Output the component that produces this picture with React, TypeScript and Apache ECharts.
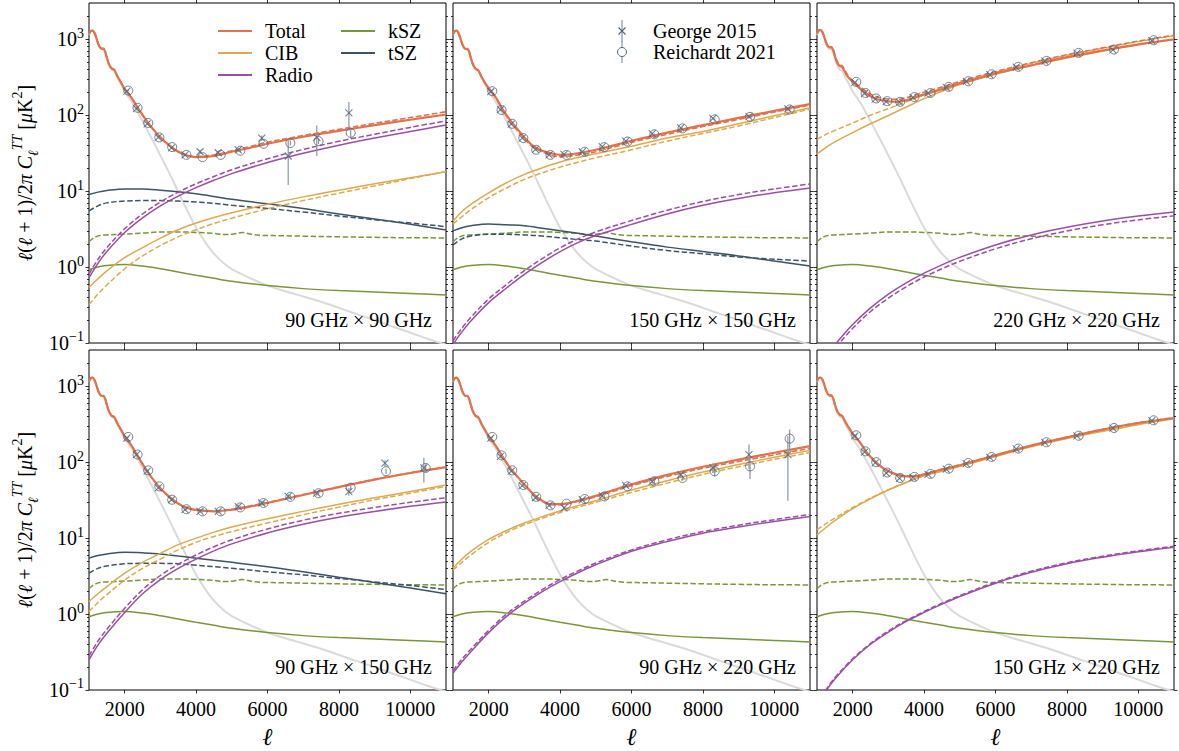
import React, { useEffect, useRef } from 'react';
import * as echarts from 'echarts';

// ---------------- data ----------------
const ELL_CMB = [1000,1050,1100,1150,1200,1250,1300,1350,1400,1450,1500,1550,1600,1650,1700,1750,1800,1900,2000,2200,2400,2600,2800,3000,3200,3400,3600,3800,4000,4250,4500,4750,5000,5500,6000,6500,7000,7500,8000,8500,9000,9500,10000,10500,11000];
const CMB = [1150,1270,1290,1210,1050,880,780,740,740,680,560,470,420,395,385,350,310,255,205,150,102,68,45,29.5,19.2,12.3,7.8,5.0,3.3,2.15,1.5,1.15,0.94,0.72,0.57,0.48,0.41,0.35,0.29,0.24,0.2,0.165,0.137,0.113,0.095];

const ELL_TOT = [1000,1050,1100,1150,1200,1250,1300,1350,1400,1450,1500,1550,1600,1650,1700,1750,1800,1900,2000,2200,2400,2600,2800,3000,3250,3500,3750,4000,4500,5000,5500,6000,7000,8000,9000,10000,11000];
const TOT_90x90 = [1162,1282,1302,1222,1062,892,792,752,752,692,572,482,432,408,398,363,323,268,221,167,118,86,65,51,40,33,29.5,28,29,33,37,42,52,62,74,87,102];
const TOT_D_90x90 = [1162,1282,1302,1222,1062,892,792,752,752,692,572,482,432,408,398,363,323,268,221,167,118,86,65,51,40,33,29.5,28.5,30,34,38.5,44,54,65,78,93,111];
const TOT_150x150 = [1158,1278,1298,1218,1058,888,788,748,748,689,569,479,429,404,394,359,320,265,228,171,118,86,66,51,39,34,31.5,30,31.5,35,40,46,59,74,92,114,140];
const TOT_D_150x150 = [1156,1276,1296,1216,1056,886,786,746,746,687,567,477,427,402,392,357,318,263,225,168,115,83,63,49,37.5,33,29.5,28.5,30,33,38,44,56,71,88,110,136];
const TOT_220x220 = [1182,1303,1324,1245,1086,917,818,779,780,721,602,513,464,440,431,397,358,305,275,225,190,168,157,152,150,157,172,187,220,262,305,355,455,580,710,855,1000];
const TOT_D_220x220 = [1198,1319,1341,1262,1103,934,836,797,798,740,621,532,483,459,450,416,377,318,285,238,203,180,168,163,162,170,185,200,235,278,325,375,490,625,770,945,1130];
const TOT_90x150 = [1158,1278,1299,1219,1059,889,789,749,749,690,570,480,430,405,395,361,321,266,220,163,113,80,59,45.5,35,28.5,25,23.5,22.5,23.7,26,29,37,47,59,72,86];
const TOT_D_90x150 = [1158,1278,1299,1219,1059,889,789,749,749,690,570,480,430,405,395,361,321,266,219,162,112,79,58.5,45,35,28.5,25,23.5,22.8,24,26.5,29.5,37.5,47.5,59.5,72.5,86];
const TOT_90x220 = [1155,1275,1295,1215,1056,886,786,746,747,687,567,477,428,403,393,358,319,264,220,164,116,84,65,51,38,31,28,28,31,36,43,51,68,87,108,133,163];
const TOT_D_90x220 = [1155,1275,1295,1215,1056,886,786,746,747,687,567,477,428,403,393,358,319,264,219,163,115,83,64,50,37.5,30.5,27.5,27.5,30.5,35,41.5,49,65,83,102,125,152];
const TOT_150x220 = [1162,1283,1303,1224,1064,895,796,756,757,698,579,490,441,417,408,374,335,281,237,183,133,105,87,76,68,65,65,69,80,91,106,123,165,212,268,328,382];
const TOT_D_150x220 = [1163,1284,1304,1225,1065,896,797,757,758,699,580,491,442,418,409,375,336,282,238,184,134,106,88,77,69,66,66,70,81,92,107,124,166,214,270,331,386];

const ELL_FG = [1000,1250,1500,2000,2500,3000,3500,4000,4500,5000,6000,7000,8000,9000,10000,11000];
const KSZ = [0.92,1.0,1.05,1.08,1.03,0.95,0.86,0.78,0.71,0.65,0.57,0.52,0.49,0.47,0.45,0.43];
const ELL_KSZ_D = [1000,1150,1300,1500,2000,2500,3000,3500,4000,4500,4800,5050,5300,5550,5800,6500,7000,8000,9000,10000,11000];
const KSZ_D = [2.15,2.45,2.6,2.65,2.72,2.8,2.9,2.9,2.86,2.78,2.68,2.72,2.85,2.7,2.62,2.58,2.55,2.5,2.46,2.43,2.42];

const CIB_90x90 = [0.54,0.7,0.89,1.33,1.8,2.4,3.1,3.8,4.5,5.2,6.7,8.4,10.3,12.5,15,18];
const CIB_D_90x90 = [0.32,0.44,0.58,0.95,1.4,1.92,2.5,3.1,3.75,4.4,5.85,7.5,9.4,11.7,14.6,18.2];
const RAD_90x90 = [0.72,1.12,1.6,2.85,4.45,6.4,8.6,11.1,13.9,17.0,23.8,31.5,40.3,50,61,74];
const RAD_D_90x90 = [0.81,1.26,1.8,3.2,5.0,7.2,9.7,12.5,15.6,19.1,26.7,35.4,45.3,56,69,84];
const TSZ_90x90 = [9.0,9.7,10.2,10.7,10.7,10.3,9.8,9.2,8.5,7.8,6.8,5.9,5.0,4.3,3.65,3.07];
const TSZ_D_90x90 = [5.5,6.4,7.0,7.4,7.5,7.5,7.4,7.2,6.9,6.5,5.9,5.3,4.7,4.2,3.8,3.4];

const CIB_150x150 = [4.0,5.4,6.7,9.5,12.9,16.6,20.3,24.2,27.8,31,39,50,61,77,98,125];
const CIB_D_150x150 = [3.7,4.6,5.7,8.2,11,14.3,17.4,20.7,24,27.5,35,45.5,57.5,72,93,120];
const RAD_150x150 = [0.096,0.14,0.195,0.34,0.53,0.8,1.15,1.6,2.1,2.6,3.65,5.0,6.5,8.0,9.5,11];
const RAD_D_150x150 = [0.107,0.157,0.218,0.38,0.59,0.9,1.29,1.79,2.35,2.9,4.1,5.6,7.3,9.0,10.7,12.4];
const TSZ_150x150 = [3.0,3.3,3.5,3.7,3.6,3.5,3.25,3.0,2.78,2.56,2.15,1.83,1.6,1.4,1.2,1.03];
const TSZ_D_150x150 = [1.95,2.35,2.56,2.7,2.7,2.65,2.56,2.43,2.3,2.2,1.89,1.65,1.5,1.36,1.27,1.2];

const CIB_220x220 = [31,37.5,44.5,59,77,99,128,165,207,253,345,447,565,695,845,985];
const CIB_D_220x220 = [48,56,63,79,100,122,150,185,225,270,365,480,615,760,930,1115];
const RAD_220x220 = [0.045,0.068,0.095,0.175,0.29,0.44,0.62,0.83,1.07,1.34,1.95,2.65,3.35,4.05,4.7,5.3];
const RAD_D_220x220 = [0.04,0.06,0.085,0.156,0.26,0.39,0.55,0.74,0.95,1.19,1.74,2.36,2.98,3.6,4.18,4.72];

const CIB_90x150 = [1.46,1.85,2.3,3.45,4.8,6.3,8.2,10,12,14,18,22.5,28,34,41,50];
const CIB_D_90x150 = [1.08,1.42,1.8,2.8,4.0,5.3,7.0,8.8,10.5,12.2,15.8,20.3,25.6,32,39,48];
const RAD_90x150 = [0.25,0.39,0.56,1.05,1.85,2.85,4.0,5.3,6.8,8.4,11.7,15.2,18.8,22.4,26.2,30];
const RAD_D_90x150 = [0.28,0.44,0.63,1.19,2.09,3.22,4.52,6.0,7.7,9.5,13.2,17.2,21.2,25.3,29.6,34];
const TSZ_90x150 = [5.45,5.9,6.2,6.5,6.4,6.2,5.8,5.45,5.1,4.8,4.2,3.6,3.06,2.6,2.2,1.85];
const TSZ_D_90x150 = [3.45,4.0,4.3,4.6,4.65,4.65,4.6,4.4,4.2,4.0,3.6,3.28,2.95,2.65,2.38,2.1];

const CIB_90x220 = [4.0,5.3,6.7,9.6,12.6,15.8,19.2,22.8,26.8,31,43,57,74,93,116,143];
const CIB_D_90x220 = [3.8,4.8,6.0,8.8,11.8,15,18.3,21.8,25.6,29.6,40,53,69,87,109,134];
const RAD_90x220 = [0.166,0.235,0.32,0.57,0.93,1.39,1.98,2.68,3.5,4.45,6.7,9.0,11.6,14,16.6,19.3];
const RAD_D_90x220 = [0.18,0.255,0.345,0.61,1.0,1.48,2.1,2.85,3.7,4.7,7.0,9.5,12.2,14.8,17.5,20.5];

const CIB_150x220 = [11,13.8,17,24.5,33,43,54,66,76,88,119,160,205,255,312,372];
const CIB_D_150x220 = [12.9,15.5,18.3,25.3,33.6,43.5,54.5,66.5,77,89,120,162,207,258,317,378];
const RAD_150x220 = [0.062,0.097,0.14,0.25,0.4,0.58,0.8,1.05,1.35,1.7,2.55,3.55,4.6,5.6,6.6,7.6];
const RAD_D_150x220 = [0.064,0.1,0.145,0.258,0.41,0.6,0.82,1.08,1.39,1.75,2.63,3.66,4.74,5.77,6.8,7.83];

// band powers (George 2015 = x, Reichardt 2021 = o)
const ELL_GEORGE = [2060,2330,2630,2940,3310,3690,4110,4620,5180,5840,6580,7380,8280,9290,10380];
const ELL_REICH = [2100,2360,2660,2970,3330,3730,4180,4690,5240,5890,6640,7430,8330,9320,10430];

const G_90x90 = [207,122,77,51,37,30,33,32,35,50,29,51,107,null,null];
const G_ERR_90x90 = [6,3.5,2.2,1.5,1.2,1.2,1.5,1.8,2.5,4,17,22,42,0,0];
const R_90x90 = [211,125,79,51,38,30,28,30,34,42,43,45.5,58.5,null,null];
const R_ERR_90x90 = [5,3,2,1.2,1,0.8,0.8,1,1.3,2,3,4,9,0,0];

const G_150x150 = [205,118,76,50,35.5,30,30.5,33,38.5,45.5,57,68,91,96,121];
const G_ERR_150x150 = [5,3,2,1.2,1,0.8,0.8,1,1.2,1.5,2,2.5,3.5,5,8];
const R_150x150 = [207,117,77,50,35,30,30,33,38,45,56,67,88,95,119];
const R_ERR_150x150 = [4,2.5,1.5,1,0.8,0.7,0.7,0.8,1,1.2,1.5,2,3,4,6];

const G_220x220 = [270,193,163,151,149,171,195,233,278,342,430,515,655,725,960];
const G_ERR_220x220 = [6,4,3,3,3,3,4,5,6,7,9,11,14,17,25];
const R_220x220 = [275,196,166,153,150,173,196,236,280,346,433,519,661,731,970];
const R_ERR_220x220 = [5,3.5,3,2.5,2.5,3,3.5,4,5,6,8,10,12,15,22];

const G_90x150 = [208,126,76,46,32,23.7,22.5,22.5,26,29,35.5,39,41,97,84];
const G_ERR_90x150 = [6,3.5,2.2,1.5,1.2,1,1,1.2,1.5,2,2.5,3,5,9,30];
const R_90x150 = [215,126,78,48,32,24,22.5,22.5,25.4,29,35,39,46,76,84];
const R_ERR_90x150 = [5,3,2,1.2,1,0.8,0.7,0.8,1,1.2,1.6,2,3,6,10];

const G_90x220 = [208,119,76,49,34,27,25,32,36,49,56,68,84,126,126];
const G_ERR_90x220 = [6,3.5,2.2,1.5,1.2,1,1,1.3,1.8,2.5,3.5,6,12,45,95];
const R_90x220 = [215,123,78,50,35,27,28.4,32.7,35.4,48,56,62,76,88,204];
const R_ERR_90x220 = [5,3,2,1.2,1,0.8,0.9,1,1.3,2,3,5,11,28,65];

const G_150x220 = [222,136,98,72,61,63,69,81,96,116,150,182,222,280,352];
const G_ERR_150x220 = [5,3,2,1.5,1.2,1.2,1.4,1.6,2,2.5,3,4,5,7,10];
const R_150x220 = [226,139,100,73,62,64,70,82,97.6,117,151,183,223,282,356];
const R_ERR_150x220 = [4,2.5,1.5,1.2,1,1,1.2,1.4,1.8,2.2,2.8,3.5,4.5,6,9];

const X_TICKS = [2000, 4000, 6000, 8000, 10000];
const Y_MAJOR = [0.10001, 1, 10, 100, 1000];
const Y_MINOR = [0.2,0.3,0.4,0.5,0.6,0.7,0.8,0.9,2,3,4,5,6,7,8,9,20,30,40,50,60,70,80,90,200,300,400,500,600,700,800,900,2000];

const PANEL_LABELS = ['90 GHz × 90 GHz', '150 GHz × 150 GHz', '220 GHz × 220 GHz', '90 GHz × 150 GHz', '90 GHz × 220 GHz', '150 GHz × 220 GHz'];

// ---------------- styling ----------------
const FONT = '"Liberation Serif", "DejaVu Serif", serif';
const C_TOTAL = '#e2714d';
const C_CIB = '#dcaa50';
const C_RADIO = '#9a4fa5';
const C_KSZ = '#7a963c';
const C_TSZ = '#3e5464';
const C_CMB = '#dadada';
const C_DATA = '#4f6475';
const C_ERR = '#8898a5';
const DASH = [5.5, 2.5];

const GRID_LEFTS = [89, 453, 817];
const GRID_TOPS = [3, 350];
const GRID_W = 357;
const GRID_H = 340;

const PANELS = [
  { tot: TOT_90x90, totD: TOT_D_90x90, cib: CIB_90x90, cibD: CIB_D_90x90, rad: RAD_90x90, radD: RAD_D_90x90, tsz: TSZ_90x90, tszD: TSZ_D_90x90, g: G_90x90, gE: G_ERR_90x90, r: R_90x90, rE: R_ERR_90x90 },
  { tot: TOT_150x150, totD: TOT_D_150x150, cib: CIB_150x150, cibD: CIB_D_150x150, rad: RAD_150x150, radD: RAD_D_150x150, tsz: TSZ_150x150, tszD: TSZ_D_150x150, g: G_150x150, gE: G_ERR_150x150, r: R_150x150, rE: R_ERR_150x150 },
  { tot: TOT_220x220, totD: TOT_D_220x220, cib: CIB_220x220, cibD: CIB_D_220x220, rad: RAD_220x220, radD: RAD_D_220x220, tsz: null, tszD: null, g: G_220x220, gE: G_ERR_220x220, r: R_220x220, rE: R_ERR_220x220 },
  { tot: TOT_90x150, totD: TOT_D_90x150, cib: CIB_90x150, cibD: CIB_D_90x150, rad: RAD_90x150, radD: RAD_D_90x150, tsz: TSZ_90x150, tszD: TSZ_D_90x150, g: G_90x150, gE: G_ERR_90x150, r: R_90x150, rE: R_ERR_90x150 },
  { tot: TOT_90x220, totD: TOT_D_90x220, cib: CIB_90x220, cibD: CIB_D_90x220, rad: RAD_90x220, radD: RAD_D_90x220, tsz: null, tszD: null, g: G_90x220, gE: G_ERR_90x220, r: R_90x220, rE: R_ERR_90x220 },
  { tot: TOT_150x220, totD: TOT_D_150x220, cib: CIB_150x220, cibD: CIB_D_150x220, rad: RAD_150x220, radD: RAD_D_150x220, tsz: null, tszD: null, g: G_150x220, gE: G_ERR_150x220, r: R_150x220, rE: R_ERR_150x220 },
];

const zip = (xs: number[], ys: (number | null)[]) => xs.map((x, i) => [x, ys[i]]);

function buildOption() {
  const grid: any[] = [];
  const xAxis: any[] = [];
  const yAxis: any[] = [];
  const series: any[] = [];
  const graphic: any[] = [];
  const tickLine = { color: '#000', width: 0.8 };

  const yLabelRich = {
    b: { fontSize: 20, fontFamily: FONT, color: '#000', lineHeight: 26 },
    s: { fontSize: 14, fontFamily: FONT, color: '#000', lineHeight: 12, verticalAlign: 'top' },
  };
  const yNameRich = {
    n: { fontSize: 20, fontFamily: FONT, color: '#000', lineHeight: 30 },
    i: { fontSize: 20, fontFamily: FONT, color: '#000', fontStyle: 'italic', lineHeight: 30 },
    sub: { fontSize: 14, fontFamily: FONT, color: '#000', fontStyle: 'italic', lineHeight: 12, verticalAlign: 'bottom' },
    sup: { fontSize: 14, fontFamily: FONT, color: '#000', fontStyle: 'italic', lineHeight: 12, verticalAlign: 'top' },
    sup2: { fontSize: 14, fontFamily: FONT, color: '#000', lineHeight: 12, verticalAlign: 'top' },
  };
  const Y_NAME = '{i|ℓ}{n|(}{i|ℓ}{n| + 1)/2}{i|π C}{sub|ℓ}{sup|TT}{n| [}{i|μ}{n|K}{sup2|2}{n|]}';

  PANELS.forEach((p, g) => {
    const col = g % 3;
    const row = Math.floor(g / 3);
    const isBottom = row === 1;
    const isLeft = col === 0;
    grid.push({
      left: GRID_LEFTS[col], top: GRID_TOPS[row], width: GRID_W, height: GRID_H,
      show: true, borderColor: '#000', borderWidth: 1, backgroundColor: 'rgba(0,0,0,0)',
      containLabel: false, outerBoundsMode: 'none',
    });
    const xBase = {
      type: 'value', gridIndex: g, min: 1000, max: 11000,
      axisLine: { show: false, onZero: false }, splitLine: { show: false },
      axisTick: { show: true, customValues: X_TICKS, length: 3.5, lineStyle: tickLine },
    };
    xAxis.push({
      ...xBase, position: 'bottom',
      axisLabel: { show: isBottom, customValues: X_TICKS, fontSize: 20, fontFamily: FONT, color: '#000', margin: 9, formatter: (v: number) => String(v) },
      name: isBottom ? 'ℓ' : '', nameLocation: 'middle', nameGap: 35, nameMoveOverlap: false,
      nameTextStyle: { fontSize: 24, fontFamily: FONT, fontStyle: 'italic', color: '#000' },
    });
    xAxis.push({ ...xBase, position: 'top', axisLabel: { show: false } });

    const yBase = {
      type: 'log', logBase: 10, gridIndex: g, min: 0.1, max: 3000,
      axisLine: { show: false, onZero: false }, splitLine: { show: false },
      minorTick: { show: false }, minorSplitLine: { show: false },
    };
    yAxis.push({
      ...yBase, position: 'left',
      axisTick: { show: true, customValues: Y_MAJOR, length: 3.5, lineStyle: tickLine },
      axisLabel: {
        show: isLeft, customValues: Y_MAJOR, margin: 5, rich: yLabelRich,
        formatter: (v: number) => {
          const e = Math.round(Math.log10(v));
          return '{b|10}{s|' + (e < 0 ? '−' + -e : String(e)) + '}';
        },
      },
      name: isLeft ? Y_NAME : '', nameLocation: 'middle', nameGap: 49, nameRotate: 90, nameMoveOverlap: false,
      nameTextStyle: { rich: yNameRich, fontSize: 20, fontFamily: FONT, color: '#000' },
    });
    yAxis.push({ ...yBase, position: 'left', axisTick: { show: true, customValues: Y_MINOR, length: 2, lineStyle: tickLine }, axisLabel: { show: false } });
    yAxis.push({ ...yBase, position: 'right', axisTick: { show: true, customValues: Y_MAJOR, length: 3.5, lineStyle: tickLine }, axisLabel: { show: false } });
    yAxis.push({ ...yBase, position: 'right', axisTick: { show: true, customValues: Y_MINOR, length: 2, lineStyle: tickLine }, axisLabel: { show: false } });

    const xi = 2 * g;
    const yi = 4 * g;
    const line = (data: any[], color: string, width: number, dashed: boolean, z: number) => ({
      type: 'line', xAxisIndex: xi, yAxisIndex: yi, data, showSymbol: false, symbol: 'none',
      smooth: 0.35, clip: true, silent: true, z,
      lineStyle: { color, width, type: dashed ? DASH : 'solid', cap: 'butt' },
    });

    series.push(line(zip(ELL_CMB, CMB), C_CMB, 2, false, 1));
    series.push(line(zip(ELL_FG, KSZ), C_KSZ, 1.5, false, 2));
    series.push(line(zip(ELL_KSZ_D, KSZ_D), C_KSZ, 1.5, true, 2));
    if (p.tsz) {
      series.push(line(zip(ELL_FG, p.tsz), C_TSZ, 1.5, false, 3));
      series.push(line(zip(ELL_FG, p.tszD as number[]), C_TSZ, 1.5, true, 3));
    }
    series.push(line(zip(ELL_FG, p.rad), C_RADIO, 1.5, false, 4));
    series.push(line(zip(ELL_FG, p.radD), C_RADIO, 1.5, true, 4));
    series.push(line(zip(ELL_FG, p.cib), C_CIB, 1.5, false, 5));
    series.push(line(zip(ELL_FG, p.cibD), C_CIB, 1.5, true, 5));
    series.push(line(zip(ELL_TOT, p.tot), C_TOTAL, 2.2, false, 6));
    series.push(line(zip(ELL_TOT, p.totD), C_TOTAL, 1.6, true, 6));

    const pts = (ells: number[], vals: (number | null)[], errs: number[]) =>
      ells.map((l, i) => [l, vals[i], errs[i]]).filter((d) => d[1] != null);
    const errSeries = (data: any[]) => ({
      type: 'custom', xAxisIndex: xi, yAxisIndex: yi, data, clip: true, silent: true, z: 7,
      renderItem: (params: any, api: any) => {
        const l = api.value(0), v = api.value(1), e = api.value(2);
        if (!(e > 0)) return { type: 'group', children: [] };
        const a = api.coord([l, Math.max(v - e, 0.05)]);
        const b = api.coord([l, v + e]);
        return { type: 'line', shape: { x1: a[0], y1: a[1], x2: b[0], y2: b[1] }, style: { stroke: C_ERR, lineWidth: 1.2 } };
      },
    });
    const gPts = pts(ELL_GEORGE, p.g, p.gE);
    const rPts = pts(ELL_REICH, p.r, p.rE);
    series.push(errSeries(gPts));
    series.push(errSeries(rPts));
    series.push({
      type: 'scatter', xAxisIndex: xi, yAxisIndex: yi, data: gPts.map((d) => [d[0], d[1]]), silent: true, z: 8,
      symbol: 'path://M0,0L10,10M10,0L0,10', symbolSize: 7,
      itemStyle: { color: 'rgba(0,0,0,0)', borderColor: C_DATA, borderWidth: 1.1 },
    });
    series.push({
      type: 'scatter', xAxisIndex: xi, yAxisIndex: yi, data: rPts.map((d) => [d[0], d[1]]), silent: true, z: 8,
      symbol: 'circle', symbolSize: 9,
      itemStyle: { color: 'rgba(0,0,0,0)', borderColor: C_DATA, borderWidth: 1 },
    });

    graphic.push({
      type: 'text', z: 20,
      x: GRID_LEFTS[col] + GRID_W - 14, y: GRID_TOPS[row] + GRID_H - 23,
      style: { text: PANEL_LABELS[g], font: '20px ' + FONT, fill: '#000', align: 'right', verticalAlign: 'middle', textAlign: 'right', textVerticalAlign: 'middle' },
    });
  });

  // legend 1 (model components)
  const leg1 = [
    { name: 'Total', color: C_TOTAL, x: 218, y: 31 },
    { name: 'CIB', color: C_CIB, x: 218, y: 53 },
    { name: 'Radio', color: C_RADIO, x: 218, y: 75 },
    { name: 'kSZ', color: C_KSZ, x: 341, y: 31 },
    { name: 'tSZ', color: C_TSZ, x: 341, y: 53 },
  ];
  leg1.forEach((it) => {
    graphic.push({ type: 'line', z: 20, shape: { x1: it.x, y1: it.y, x2: it.x + 34, y2: it.y }, style: { stroke: it.color, lineWidth: 2 } });
    graphic.push({ type: 'text', z: 20, x: it.x + 47, y: it.y, style: { text: it.name, font: '20px ' + FONT, fill: '#000', verticalAlign: 'middle', textVerticalAlign: 'middle' } });
  });
  // legend 2 (data)
  const mx = 622;
  graphic.push({ type: 'line', z: 20, shape: { x1: mx, y1: 20, x2: mx, y2: 42 }, style: { stroke: C_ERR, lineWidth: 1.2 } });
  graphic.push({ type: 'line', z: 21, shape: { x1: mx - 3.5, y1: 27.5, x2: mx + 3.5, y2: 34.5 }, style: { stroke: C_DATA, lineWidth: 1.1 } });
  graphic.push({ type: 'line', z: 21, shape: { x1: mx + 3.5, y1: 27.5, x2: mx - 3.5, y2: 34.5 }, style: { stroke: C_DATA, lineWidth: 1.1 } });
  graphic.push({ type: 'line', z: 20, shape: { x1: mx, y1: 41, x2: mx, y2: 63 }, style: { stroke: C_ERR, lineWidth: 1.2 } });
  graphic.push({ type: 'circle', z: 21, shape: { cx: mx, cy: 52, r: 4.5 }, style: { fill: '#fff', stroke: C_DATA, lineWidth: 1 } });
  graphic.push({ type: 'text', z: 20, x: 653, y: 31, style: { text: 'George 2015', font: '20px ' + FONT, fill: '#000', verticalAlign: 'middle', textVerticalAlign: 'middle' } });
  graphic.push({ type: 'text', z: 20, x: 653, y: 52, style: { text: 'Reichardt 2021', font: '20px ' + FONT, fill: '#000', verticalAlign: 'middle', textVerticalAlign: 'middle' } });

  return { animation: false, backgroundColor: '#fff', grid, xAxis, yAxis, series, graphic };
}

export default function App() {
  const ref = useRef<HTMLDivElement>(null);
  useEffect(() => {
    if (!ref.current) return;
    const chart = echarts.init(ref.current, undefined, { renderer: 'svg' });
    chart.setOption(buildOption() as any);
    return () => chart.dispose();
  }, []);
  return <div ref={ref} style={{ position: 'fixed', left: 0, top: 0, width: 1179, height: 751, background: '#fff' }} />;
}
